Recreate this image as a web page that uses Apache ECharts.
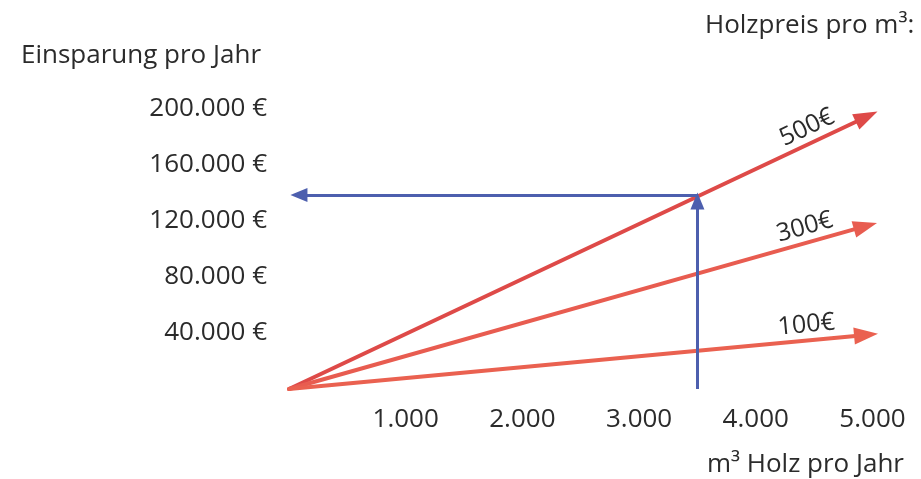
<!DOCTYPE html>
<html>
<head>
<meta charset="utf-8">
<script src="https://cdn.jsdelivr.net/npm/echarts@6/dist/echarts.min.js"></script>
<style>html,body{margin:0;padding:0;background:#fff;}#c{width:921px;height:479px;}</style>
</head>
<body>
<div id="c"></div>
<script>
// Data
const xTicks = [1000, 2000, 3000, 4000, 5000];
const yTicks = [40000, 80000, 120000, 160000, 200000];
const priceLabels = ['500€', '300€', '100€'];
const lineEndX = [4950, 4940, 4945];
const lineEndY = [194500, 116300, 38600];
const readX = 3500;        // m³ Holz pro Jahr (example reading)
const readY = 138600;      // Einsparung (example reading)
const readArrowY = 134300; // end of upward blue arrow (head reaches the 500€ line)
const readArrowX = 85;     // end of leftward blue arrow (head reaches the y axis)

const fmt = v => String(v).replace(/\B(?=(\d{3})+(?!\d))/g, '.');

const redColors = ['#de4a48', '#e85c50', '#ea6150'];
const blue = '#4d5fae';
const font = '"Open Sans", "Noto Sans", sans-serif';
const txt = '#2b2b2b';

const markData = priceLabels.map((lab, i) => [
  { coord: [0, 0], lineStyle: { color: redColors[i], width: 4 },
    label: { show: true, formatter: lab, position: 'insideEndTop', distance: [30, 3],
             color: txt, fontSize: 25, fontFamily: font } },
  { coord: [lineEndX[i], lineEndY[i]] }
]);

const chart = echarts.init(document.getElementById('c'), null, { renderer: 'canvas' });
chart.setOption({
  backgroundColor: '#ffffff',
  animation: false,
  textStyle: { fontFamily: font },
  title: [
    { text: 'Einsparung pro Jahr', left: 16, top: 38,
      textStyle: { fontSize: 26, fontWeight: 'normal', color: txt, fontFamily: font } },
    { text: 'Holzpreis pro m³:', left: 700, top: 8,
      textStyle: { fontSize: 26, fontWeight: 'normal', color: txt, fontFamily: font } },
    { text: 'm³ Holz pro Jahr', right: 12, top: 447,
      textStyle: { fontSize: 26, fontWeight: 'normal', color: txt, fontFamily: font } }
  ],
  grid: { left: 289, top: 109, width: 606.8, height: 280, containLabel: false },
  xAxis: {
    type: 'value', min: 0, max: 5200, interval: 1000,
    axisLine: { show: false }, axisTick: { show: false }, splitLine: { show: false },
    axisLabel: {
      margin: 18, fontSize: 26, color: txt, fontFamily: font,
      showMaxLabel: false,
      formatter: v => xTicks.includes(v) ? fmt(v) : ''
    }
  },
  yAxis: {
    type: 'value', min: 0, max: 200000, interval: 40000,
    axisLine: { show: false }, axisTick: { show: false }, splitLine: { show: false },
    axisLabel: {
      margin: 22, fontSize: 26, color: txt, fontFamily: font,
      formatter: v => yTicks.includes(v) ? fmt(v) + ' €' : ''
    }
  },
  series: [
    {
      type: 'line', data: [], silent: true,
      markLine: {
        silent: true, symbol: ['none', 'triangle'], symbolSize: [17, 24],
        lineStyle: { type: 'solid', cap: 'round' },
        data: markData
      }
    },
    {
      type: 'line', data: [], silent: true,
      markLine: {
        silent: true, symbol: ['none', 'triangle'], symbolSize: [14, 17],
        lineStyle: { type: 'solid', color: blue, width: 3 },
        label: { show: false },
        data: [
          [{ coord: [readX, 0] }, { coord: [readX, readArrowY] }],
          [{ coord: [readX, readY] }, { coord: [readArrowX, readY] }]
        ]
      }
    }
  ]
});
</script>
</body>
</html>
